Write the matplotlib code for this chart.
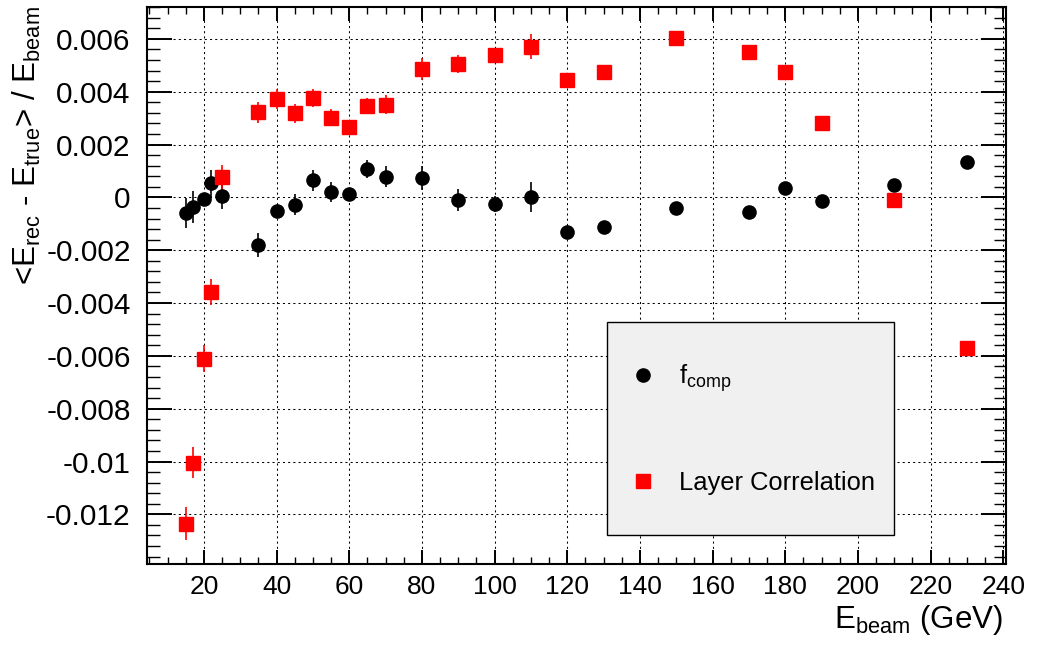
import matplotlib
matplotlib.use("Agg")
import matplotlib.pyplot as plt
from matplotlib import font_manager
from matplotlib.lines import Line2D
from matplotlib.patches import Rectangle
from matplotlib.ticker import MultipleLocator, AutoMinorLocator, FuncFormatter

plt.rcParams['font.family'] = ['Liberation Sans', 'DejaVu Sans']
plt.rcParams['mathtext.fontset'] = 'custom'
plt.rcParams['mathtext.rm'] = 'Liberation Sans'
plt.rcParams['mathtext.it'] = 'Liberation Sans:italic'

# beam energies (GeV)
e_beam = [15, 17, 20, 22, 25, 35, 40, 45, 50, 55, 60, 65, 70, 80, 90, 100,
          110, 120, 130, 150, 170, 180, 190, 210, 230]

# f_comp: relative energy offset and its error
fcomp_val = [-0.00059, -0.00036, -0.00005, 0.00053, 0.00006, -0.00181, -0.00050,
             -0.00027, 0.00065, 0.00020, 0.00011, 0.00108, 0.00079, 0.00074,
             -0.00010, -0.00024, 0.00001, -0.00132, -0.00111, -0.00040, -0.00056,
             0.00034, -0.00014, 0.00048, 0.00133]
fcomp_err = [0.00057, 0.00060, 0.00020, 0.00050, 0.00050, 0.00045, 0.00020,
             0.00038, 0.00040, 0.00037, 0.00020, 0.00035, 0.00040, 0.00046,
             0.00040, 0.00030, 0.00056, 0.00025, 0.00020, 0.00020, 0.00020,
             0.00025, 0.00020, 0.00020, 0.00020]

# layer correlation: relative energy offset and its error
layer_val = [-0.01236, -0.01004, -0.00610, -0.00358, 0.00076, 0.00323, 0.00373,
             0.00318, 0.00376, 0.00302, 0.00266, 0.00345, 0.00351, 0.00486,
             0.00505, 0.00538, 0.00571, 0.00443, 0.00475, 0.00603, 0.00551,
             0.00473, 0.00282, -0.00008, -0.00570]
layer_err = [0.00062, 0.00059, 0.00050, 0.00050, 0.00047, 0.00040, 0.00038,
             0.00036, 0.00035, 0.00033, 0.00020, 0.00030, 0.00036, 0.00040,
             0.00033, 0.00028, 0.00047, 0.00020, 0.00020, 0.00020, 0.00020,
             0.00020, 0.00020, 0.00020, 0.00020]

labels = [r'f$_{\rm comp}$', 'Layer Correlation']

# narrow face for the x tick labels if there is one
installed = {f.name for f in font_manager.fontManager.ttflist}
if 'Liberation Sans Narrow' in installed:
    xfont, xsize = 'Liberation Sans Narrow', 20
else:
    xfont, xsize = 'Liberation Sans', 19

W, H = 1037, 645
fig = plt.figure(figsize=(W / 100, H / 100), dpi=100)
ax = fig.add_axes([146.7 / W, 81 / H, (1006 - 146.7) / W, (564 - 6.7) / H])

ax.errorbar(e_beam, fcomp_val, yerr=fcomp_err, fmt='o', color='black', ms=9.5,
            elinewidth=1.2, capsize=0, zorder=3)
ax.errorbar(e_beam, layer_val, yerr=layer_err, fmt='s', color='red', ms=9.5,
            elinewidth=1.2, capsize=0, zorder=3)

ax.set_xlim(4.25, 240.75)
ax.set_ylim(-0.01388, 0.00722)

ax.xaxis.set_major_locator(MultipleLocator(20))
ax.xaxis.set_minor_locator(AutoMinorLocator(4))
ax.yaxis.set_major_locator(MultipleLocator(0.002))
ax.yaxis.set_minor_locator(AutoMinorLocator(5))
ax.yaxis.set_major_formatter(FuncFormatter(lambda v, p: '%g' % round(v, 6)))

ax.tick_params(which='both', direction='in', top=True, right=True, color='black')
ax.tick_params(axis='y', which='major', length=18, width=1.4, labelsize=21.5, pad=11.5)
ax.tick_params(axis='y', which='minor', length=9, width=1.0)
ax.tick_params(axis='x', which='major', length=10, width=1.4, labelsize=xsize, pad=8,
               labelfontfamily=xfont)
ax.tick_params(axis='x', which='minor', length=5, width=1.0)
for s in ax.spines.values():
    s.set_linewidth(1.5)

ax.grid(which='major', color='black', linestyle=(0, (2, 3)), linewidth=0.75)
ax.set_axisbelow(True)

# legend box
box = Rectangle((607.3 / W, 1 - 535 / H), (894 - 607.3) / W, (535 - 321.7) / H,
                transform=fig.transFigure, facecolor='#f0f0f0', edgecolor='black',
                linewidth=1.0, zorder=5)
ax.add_patch(box)
handles = [Line2D([], [], marker='o', color='black', ls='none', ms=9.5),
           Line2D([], [], marker='s', color='red', ls='none', ms=9.5)]
leg = ax.legend(handles, labels, loc='center left',
                bbox_to_anchor=(607.3 / W, 1 - 428.4 / H),
                bbox_transform=fig.transFigure, frameon=False, fontsize=18.4,
                borderpad=0.24, handlelength=1.33, handletextpad=0.73,
                labelspacing=3.0, numpoints=1)
leg.set_zorder(6)

fig.text(36 / W, 1 - 6 / H, r'<E$_{\rm rec}$ - E$_{\rm true}$> / E$_{\rm beam}$',
         rotation=90, rotation_mode='anchor', ha='right', va='baseline', fontsize=22.5)
fig.text(1003 / W, 1 - 628 / H, r'E$_{\rm beam}$ (GeV)', ha='right', va='baseline',
         fontsize=22.5)

fig.savefig('out.png', dpi=100)
